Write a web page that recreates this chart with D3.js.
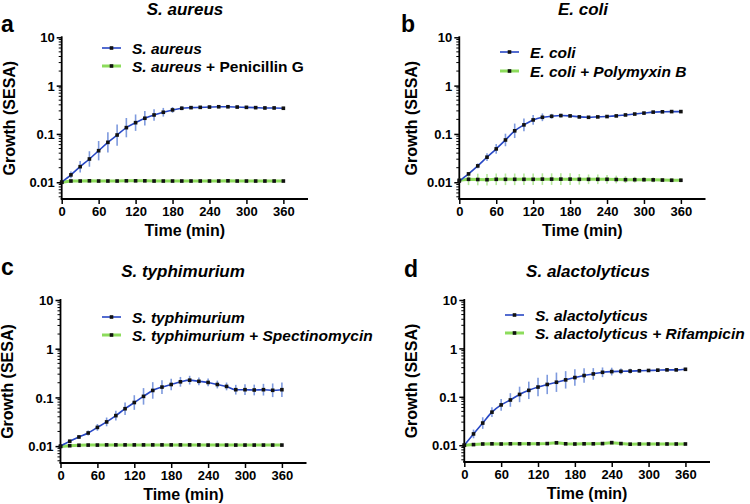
<!DOCTYPE html>
<html><head><meta charset="utf-8">
<script src="https://cdn.jsdelivr.net/npm/d3@7"></script>
<style>body{margin:0;background:#fff} text{font-family:"Liberation Sans",Arial,sans-serif;font-weight:bold;fill:#000}</style>
</head><body><svg id="c" width="750" height="504"></svg>
<script>
// ---------- DATA ----------
const times = [0,15,30,45,60,75,90,105,120,135,150,165,180,195,210,225,240,255,270,285,300,315,330,345,360];
const xTicks = [0,60,120,180,240,300,360];
const yTicks = [0.01,0.1,1,10];
const yTickLabels = ["0.01","0.1","1","10"];

const aureus    = [0.010,0.0142,0.021,0.0303,0.045,0.067,0.095,0.135,0.171,0.211,0.247,0.281,0.314,0.34,0.35,0.355,0.36,0.365,0.365,0.36,0.355,0.35,0.345,0.345,0.34];
const aureusErr = [0,0.07,0.12,0.16,0.2,0.21,0.22,0.2,0.17,0.15,0.12,0.09,0.06,0.04,0.03,0.03,0.03,0.03,0.03,0.03,0.03,0.03,0.03,0.03,0.03];
const aureusPen = [0.0100,0.0106,0.0106,0.0107,0.0106,0.0106,0.0106,0.0107,0.0107,0.0107,0.0106,0.0106,0.0106,0.0106,0.0106,0.0106,0.0106,0.0106,0.0107,0.0106,0.0106,0.0106,0.0106,0.0106,0.0106];
const aureusPenErr = [0,0.02,0.02,0.02,0.02,0.02,0.02,0.02,0.02,0.02,0.02,0.02,0.02,0.02,0.02,0.02,0.02,0.02,0.02,0.02,0.02,0.02,0.02,0.02,0.02];

const ecoli    = [0.0106,0.0149,0.0218,0.033,0.049,0.075,0.116,0.154,0.195,0.221,0.232,0.24,0.236,0.225,0.221,0.225,0.229,0.236,0.247,0.258,0.27,0.283,0.287,0.29,0.29];
const ecoliErr = [0,0.03,0.05,0.08,0.1,0.13,0.15,0.13,0.1,0.08,0.05,0.04,0.03,0.03,0.02,0.02,0.02,0.02,0.02,0.02,0.02,0.02,0.02,0.02,0.02];
const ecoliPoly    = [0.011,0.0115,0.0114,0.0113,0.0115,0.0115,0.0115,0.0115,0.0115,0.0116,0.0116,0.0116,0.0116,0.0115,0.0115,0.0115,0.0115,0.0114,0.0113,0.0113,0.0113,0.0112,0.0111,0.011,0.011];
const ecoliPolyErr = [0,0.12,0.12,0.12,0.12,0.12,0.12,0.12,0.12,0.12,0.12,0.12,0.12,0.11,0.1,0.1,0.09,0.08,0.07,0.06,0.05,0.05,0.04,0.04,0.04];

const typh    = [0.010,0.0126,0.0154,0.0186,0.0242,0.0314,0.0423,0.0586,0.0785,0.105,0.139,0.163,0.184,0.209,0.226,0.214,0.203,0.184,0.168,0.144,0.144,0.142,0.144,0.14,0.144];
const typhErr = [0,0.03,0.04,0.05,0.07,0.09,0.1,0.13,0.15,0.17,0.17,0.14,0.12,0.1,0.09,0.08,0.08,0.08,0.08,0.1,0.11,0.11,0.12,0.14,0.15];
const typhSpec    = [0.0098,0.0102,0.0104,0.0105,0.0105,0.0106,0.0106,0.0106,0.0106,0.0106,0.0106,0.0106,0.0106,0.0106,0.0106,0.0106,0.0105,0.0105,0.0105,0.0105,0.0105,0.0105,0.0105,0.0105,0.0105];
const typhSpecErr = [0,0.02,0.02,0.02,0.02,0.02,0.02,0.02,0.02,0.02,0.02,0.02,0.02,0.02,0.02,0.02,0.02,0.02,0.02,0.02,0.02,0.02,0.02,0.02,0.02];

const alac    = [0.010,0.0171,0.0287,0.0482,0.068,0.086,0.112,0.136,0.159,0.18,0.2,0.224,0.25,0.275,0.297,0.321,0.332,0.336,0.34,0.345,0.35,0.355,0.36,0.36,0.37];
const alacErr = [0,0.09,0.12,0.1,0.12,0.14,0.16,0.18,0.19,0.2,0.2,0.18,0.17,0.15,0.12,0.1,0.08,0.06,0.05,0.04,0.03,0.03,0.03,0.03,0.03];
const alacRif    = [0.0100,0.0103,0.0106,0.0107,0.0106,0.0107,0.0107,0.0107,0.0107,0.0108,0.0112,0.0107,0.0106,0.0107,0.0107,0.0108,0.0113,0.0108,0.0105,0.0106,0.0106,0.0106,0.0106,0.0106,0.0106];
const alacRifErr = [0,0.02,0.02,0.02,0.02,0.02,0.02,0.02,0.02,0.02,0.02,0.02,0.02,0.02,0.02,0.02,0.02,0.02,0.02,0.02,0.02,0.02,0.02,0.02,0.02];

// ---------- STYLE ----------
const BLUE = "#2747c4", BLUE_ERR = "#7e9ade", GREEN = "#8ddc5c", GREEN_ERR = "#b4e89a";
const FONT_TICK = 13, FONT_AXIS = 16, FONT_TITLE = 17, FONT_LEG = 15.5, FONT_LETTER = 23;

const panels = [
  {letter:"a", lx:1, ly:32, title:[["S. aureus",true]], tx:185, ty:15,
   x0:61.7, x1:308, yTop:37.3, yBot:199, ylx:15,
   s1:aureus, e1:aureusErr, s2:aureusPen, e2:aureusPenErr,
   leg1:[["S. aureus",true]], leg2:[["S. aureus",true],[" + Penicillin G",false]],
   legX:102, legY1:48, legY2:66},
  {letter:"b", lx:401, ly:32, title:[["E. coli",true]], tx:583, ty:15,
   x0:459.3, x1:705.5, yTop:37.3, yBot:199, ylx:417,
   s1:ecoli, e1:ecoliErr, s2:ecoliPoly, e2:ecoliPolyErr,
   leg1:[["E. coli",true]], leg2:[["E. coli + Polymyxin B",true]],
   legX:500, legY1:52, legY2:71},
  {letter:"c", lx:1, ly:275, title:[["S. typhimurium",true]], tx:183, ty:277,
   x0:60.5, x1:306.5, yTop:300, yBot:463, ylx:13,
   s1:typh, e1:typhErr, s2:typhSpec, e2:typhSpecErr,
   leg1:[["S. typhimurium",true]], leg2:[["S. typhimurium + Spectinomycin",true]],
   legX:102, legY1:317, legY2:335},
  {letter:"d", lx:404, ly:277, title:[["S. alactolyticus",true]], tx:588, ty:277,
   x0:464.3, x1:710, yTop:300, yBot:462, ylx:417,
   s1:alac, e1:alacErr, s2:alacRif, e2:alacRifErr,
   leg1:[["S. alactolyticus",true]], leg2:[["S. alactolyticus + Rifampicin",true]],
   legX:505, legY1:315, legY2:333}
];

const svg = d3.select("#c");

function richText(g, x, y, parts, size, anchor) {
  const t = g.append("text").attr("x", x).attr("y", y).attr("font-size", size)
    .attr("text-anchor", anchor || "start").attr("xml:space","preserve");
  parts.forEach(p => t.append("tspan").attr("font-style", p[1] ? "italic" : "normal").text(p[0]));
  return t;
}

panels.forEach(p => {
  const g = svg.append("g");
  const x = d3.scaleLinear().domain([0, 400]).range([p.x0, p.x1]);
  const yMin = 0.0045;
  const y = d3.scaleLog().domain([yMin, 10]).range([p.yBot, p.yTop]);

  // minor log ticks
  const minor = [];
  [0.001,0.01,0.1,1].forEach(dec => { for (let k = 2; k <= 9; k++) { const v = dec*k; if (v >= yMin && v < 10) minor.push(v); } });
  g.selectAll(".minor").data(minor).join("line")
    .attr("x1", p.x0 - 3).attr("x2", p.x0).attr("y1", d => y(d)).attr("y2", d => y(d))
    .attr("stroke", "#000").attr("stroke-width", 1);

  // y axis (major)
  const yAxis = d3.axisLeft(y).tickValues(yTicks).tickFormat((d,i) => yTickLabels[i]).tickSize(5).tickPadding(2);
  const ya = g.append("g").attr("transform", `translate(${p.x0},0)`).call(yAxis);
  ya.select(".domain").remove();
  ya.selectAll(".tick line").attr("stroke-width", 1.5);
  ya.selectAll(".tick text").attr("font-size", FONT_TICK).attr("font-family", null).attr("dy", "0.36em");
  g.append("line").attr("x1", p.x0).attr("x2", p.x0).attr("y1", p.yTop - 1).attr("y2", p.yBot)
    .attr("stroke", "#000").attr("stroke-width", 1.8);

  // x axis
  const xAxis = d3.axisBottom(x).tickValues(xTicks).tickSize(5).tickPadding(3);
  const xa = g.append("g").attr("transform", `translate(0,${p.yBot})`).call(xAxis);
  xa.select(".domain").remove();
  xa.selectAll(".tick line").attr("stroke-width", 1.5);
  xa.selectAll(".tick text").attr("font-size", FONT_TICK).attr("font-family", null);
  g.append("line").attr("x1", p.x0 - 1).attr("x2", p.x1).attr("y1", p.yBot).attr("y2", p.yBot)
    .attr("stroke", "#000").attr("stroke-width", 1.8);

  // labels
  g.append("text").attr("x", (p.x0 + p.x1) / 2).attr("y", p.yBot + 37).attr("text-anchor", "middle")
    .attr("font-size", FONT_AXIS).text("Time (min)");
  g.append("text").attr("transform", `translate(${p.ylx},${(p.yTop + p.yBot) / 2}) rotate(-90)`)
    .attr("text-anchor", "middle").attr("font-size", FONT_AXIS).text("Growth (SESA)");
  richText(g, p.tx, p.ty, p.title, FONT_TITLE, "middle");
  g.append("text").attr("x", p.lx).attr("y", p.ly).attr("font-size", FONT_LETTER).text(p.letter);

  const clampV = v => Math.max(yMin, Math.min(10, v));
  const series = [
    {vals:p.s2, err:p.e2, color:GREEN, ecolor:GREEN_ERR, w:3, curve:d3.curveLinear},
    {vals:p.s1, err:p.e1, color:BLUE, ecolor:BLUE_ERR, w:1.6, curve:d3.curveMonotoneX}
  ];
  series.forEach(s => {
    g.append("g").selectAll("line").data(times.map((t,i) => ({t, v:s.vals[i], e:s.err[i]})).filter(d => d.e > 0))
      .join("line")
      .attr("x1", d => x(d.t)).attr("x2", d => x(d.t))
      .attr("y1", d => y(clampV(d.v * Math.pow(10, d.e)))).attr("y2", d => y(clampV(d.v / Math.pow(10, d.e))))
      .attr("stroke", s.ecolor).attr("stroke-width", 1.6);
  });
  series.forEach(s => {
    g.append("path").datum(times.map((t,i) => [t, s.vals[i]]))
      .attr("d", d3.line().x(d => x(d[0])).y(d => y(d[1])).curve(s.curve))
      .attr("fill", "none").attr("stroke", s.color).attr("stroke-width", s.w);
  });
  series.forEach(s => {
    g.append("g").selectAll("rect").data(times.map((t,i) => [t, s.vals[i]])).join("rect")
      .attr("x", d => x(d[0]) - 1.8).attr("y", d => y(d[1]) - 1.8).attr("width", 3.6).attr("height", 3.6)
      .attr("fill", "#111");
  });

  // legend
  const legs = [[p.leg1, BLUE, 1.6, p.legY1], [p.leg2, GREEN, 3, p.legY2]];
  legs.forEach(l => {
    g.append("line").attr("x1", p.legX).attr("x2", p.legX + 19).attr("y1", l[3]).attr("y2", l[3])
      .attr("stroke", l[1]).attr("stroke-width", l[2]);
    g.append("rect").attr("x", p.legX + 9.5 - 1.8).attr("y", l[3] - 1.8).attr("width", 3.6).attr("height", 3.6).attr("fill", "#111");
    richText(g, p.legX + 30, l[3] + 5.5, l[0], FONT_LEG, "start");
  });
});
</script></body></html>
